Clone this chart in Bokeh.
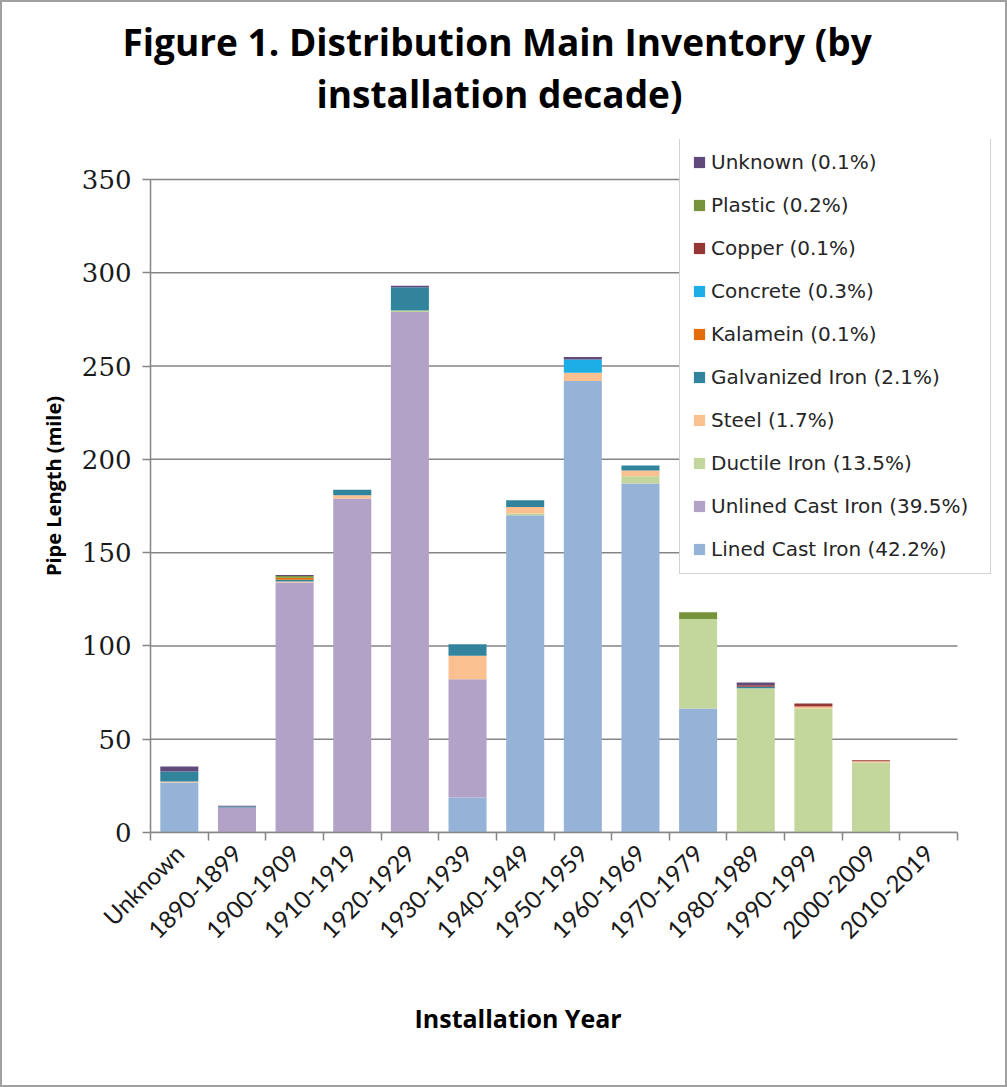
from math import pi
from bokeh.plotting import figure
from bokeh.models import (ColumnDataSource, Legend, LegendItem, Title,
                          FixedTicker, Range1d)
from bokeh.embed import file_html
from bokeh.resources import INLINE

# ---------------- data ----------------
categories = ["Unknown", "1890-1899", "1900-1909", "1910-1919", "1920-1929",
              "1930-1939", "1940-1949", "1950-1959", "1960-1969", "1970-1979",
              "1980-1989", "1990-1999", "2000-2009", "2010-2019"]

lined_cast_iron   = [26.8, 0, 0, 0, 0, 18.8, 170, 242, 187, 66.5, 0, 0, 0, 0]
unlined_cast_iron = [0, 13.4, 134, 179, 279, 63.4, 0, 0, 0, 0, 0, 0, 0, 0]
ductile_iron      = [0, 0, 0, 0, 0.8, 0, 1, 0, 4, 48, 77.3, 66.5, 37.5, 0.3]
steel             = [0.5, 0, 0.5, 1.8, 0, 12.5, 3.5, 4.4, 3, 0, 0, 1, 0.7, 0]
galvanized_iron   = [5.4, 0.6, 1, 2.9, 12.5, 6.2, 3.6, 0, 2.7, 0, 0.8, 0, 0, 0]
kalamein          = [0, 0, 1, 0, 0, 0, 0, 0, 0, 0, 0, 0, 0, 0]
concrete          = [0, 0, 0, 0, 0, 0, 0, 7.1, 0, 0, 0, 0, 0, 0]
copper            = [0, 0, 0, 0, 0, 0, 0, 0, 0, 0, 0.8, 1.6, 0.5, 0]
plastic           = [0, 0, 1, 0, 0, 0, 0, 0, 0, 3.6, 0, 0, 0, 0]
unknown_material  = [2.7, 0.4, 0.5, 0, 0.8, 0, 0, 1.4, 0, 0, 1.5, 0, 0, 0]

series_keys = ["lined", "unlined", "ductile", "steel", "galvanized",
               "kalamein", "concrete", "copper", "plastic", "unknown"]
series_values = [lined_cast_iron, unlined_cast_iron, ductile_iron, steel,
                 galvanized_iron, kalamein, concrete, copper, plastic,
                 unknown_material]
legend_labels = ["Lined Cast Iron (42.2%)", "Unlined Cast Iron (39.5%)",
                 "Ductile Iron (13.5%)", "Steel (1.7%)",
                 "Galvanized Iron (2.1%)", "Kalamein (0.1%)",
                 "Concrete (0.3%)", "Copper (0.1%)", "Plastic (0.2%)",
                 "Unknown (0.1%)"]
colors = ["#95B3D7", "#B3A2C7", "#C3D69B", "#FAC090", "#31849B",
          "#E46C0A", "#1CAEE4", "#953735", "#77933C", "#604A7B"]
y_ticks = [0, 50, 100, 150, 200, 250, 300, 350]
y_max = 350

# ---------------- figure ----------------
W, H = 1007, 1087
FL, FT, FB = 148, 137, 830        # frame left / top / bottom (px)
PLOT_R = 955                      # right end of category axis (px)
FR = 992                          # frame right (room for the legend)
Y350 = 177                        # pixel row of the 350 gridline
n = len(categories)
xs = [i + 0.5 for i in range(n)]

px_per_cat = (PLOT_R - FL) / n
px_per_unit = (FB - Y350) / y_max
x_end = n + (FR - PLOT_R) / px_per_cat
y_end = y_max + (Y350 - FT) / px_per_unit

p = figure(width=W, height=H, output_backend="svg", toolbar_location=None,
           x_range=Range1d(0, x_end), y_range=Range1d(0, y_end),
           min_border_left=FL, min_border_right=W - FR,
           min_border_top=FT, min_border_bottom=H - FB)
p.styles = {"border": "2px solid #a0a0a0", "box-sizing": "border-box"}
p.outline_line_color = None
p.background_fill_color = "white"
p.border_fill_color = "white"

# horizontal gridlines limited to the category span
p.xgrid.visible = False
p.ygrid.visible = False
p.segment(x0=[0] * len(y_ticks), x1=[n] * len(y_ticks), y0=y_ticks,
          y1=y_ticks, line_color="#858585", line_width=1.5)

data = dict(x=xs)
for k, v in zip(series_keys, series_values):
    data[k] = v
source = ColumnDataSource(data)

rs = p.vbar_stack(series_keys, x="x", width=0.66, color=colors,
                  line_color=None, source=source)

# y axis
p.yaxis.ticker = FixedTicker(ticks=y_ticks)
p.yaxis.bounds = (0, y_max)
p.yaxis.axis_line_color = "#858585"
p.yaxis.axis_line_width = 1.5
p.yaxis.major_tick_line_color = "#858585"
p.yaxis.major_tick_line_width = 1.5
p.yaxis.major_tick_out = 8
p.yaxis.major_tick_in = 0
p.yaxis.minor_tick_line_color = None
p.yaxis.major_label_text_font = "DejaVu Serif"
p.yaxis.major_label_text_font_size = "26px"
p.yaxis.major_label_text_color = "#1a1a1a"
p.yaxis.major_label_standoff = 11
p.yaxis.axis_label = "Pipe Length (mile)"
p.yaxis.axis_label_text_font = "Open Sans"
p.yaxis.axis_label_text_font_style = "bold"
p.yaxis.axis_label_text_font_size = "20px"
p.yaxis.axis_label_text_color = "black"
p.yaxis.axis_label_standoff = 12

# x axis: labels at centers, tick marks at category boundaries
p.xaxis.ticker = FixedTicker(ticks=xs, minor_ticks=list(range(n + 1)))
p.xaxis.bounds = (0, n)
p.xaxis.major_label_overrides = {x: c for x, c in zip(xs, categories)}
p.xaxis.major_label_orientation = pi / 4
p.xaxis.major_label_text_font = "Lato"
p.xaxis.major_label_text_font_size = "24px"
p.xaxis.major_label_text_color = "#1a1a1a"
p.xaxis.major_tick_out = 0
p.xaxis.major_tick_in = 0
p.xaxis.minor_tick_out = 8
p.xaxis.minor_tick_in = 0
p.xaxis.minor_tick_line_color = "#858585"
p.xaxis.minor_tick_line_width = 1.5
p.xaxis.axis_line_color = "#858585"
p.xaxis.axis_line_width = 1.5
p.xaxis.major_label_standoff = 8

# legend (top entry = last stacked series)
items = [LegendItem(label=lbl, renderers=[r])
         for lbl, r in zip(legend_labels, rs)][::-1]
legend = Legend(items=items, location=(677 - FL, FB - 572),
                orientation="vertical")
legend.label_text_font = "DejaVu Sans"
legend.label_text_font_size = "20px"
legend.label_text_color = "#262626"
legend.glyph_width = 14
legend.glyph_height = 14
legend.label_height = 24
legend.label_width = 267
legend.spacing = 19
legend.padding = 12
legend.margin = 0
legend.label_standoff = 5
legend.border_line_color = "#a6a6a6"
legend.border_line_width = 1.5
legend.background_fill_color = "white"
legend.background_fill_alpha = 1.0
p.add_layout(legend, "center")

# titles (left-aligned with pixel offsets from the frame's left edge)
t2 = Title(text="installation decade)", align="left", offset=314 - FL,
           text_font="Open Sans", text_font_style="bold",
           text_font_size="37px", text_color="black", standoff=42)
t1 = Title(text="Figure 1. Distribution Main Inventory (by", align="left",
           offset=120 - FL, text_font="Open Sans", text_font_style="bold",
           text_font_size="37px", text_color="black", standoff=-44)
p.add_layout(t2, "above")
p.add_layout(t1, "above")

xl = Title(text="Installation Year", align="left", offset=412 - FL,
           text_font="Open Sans", text_font_style="bold",
           text_font_size="25px", text_color="black", standoff=82)
p.add_layout(xl, "below")

open("out.html", "w").write(file_html(p, INLINE))
